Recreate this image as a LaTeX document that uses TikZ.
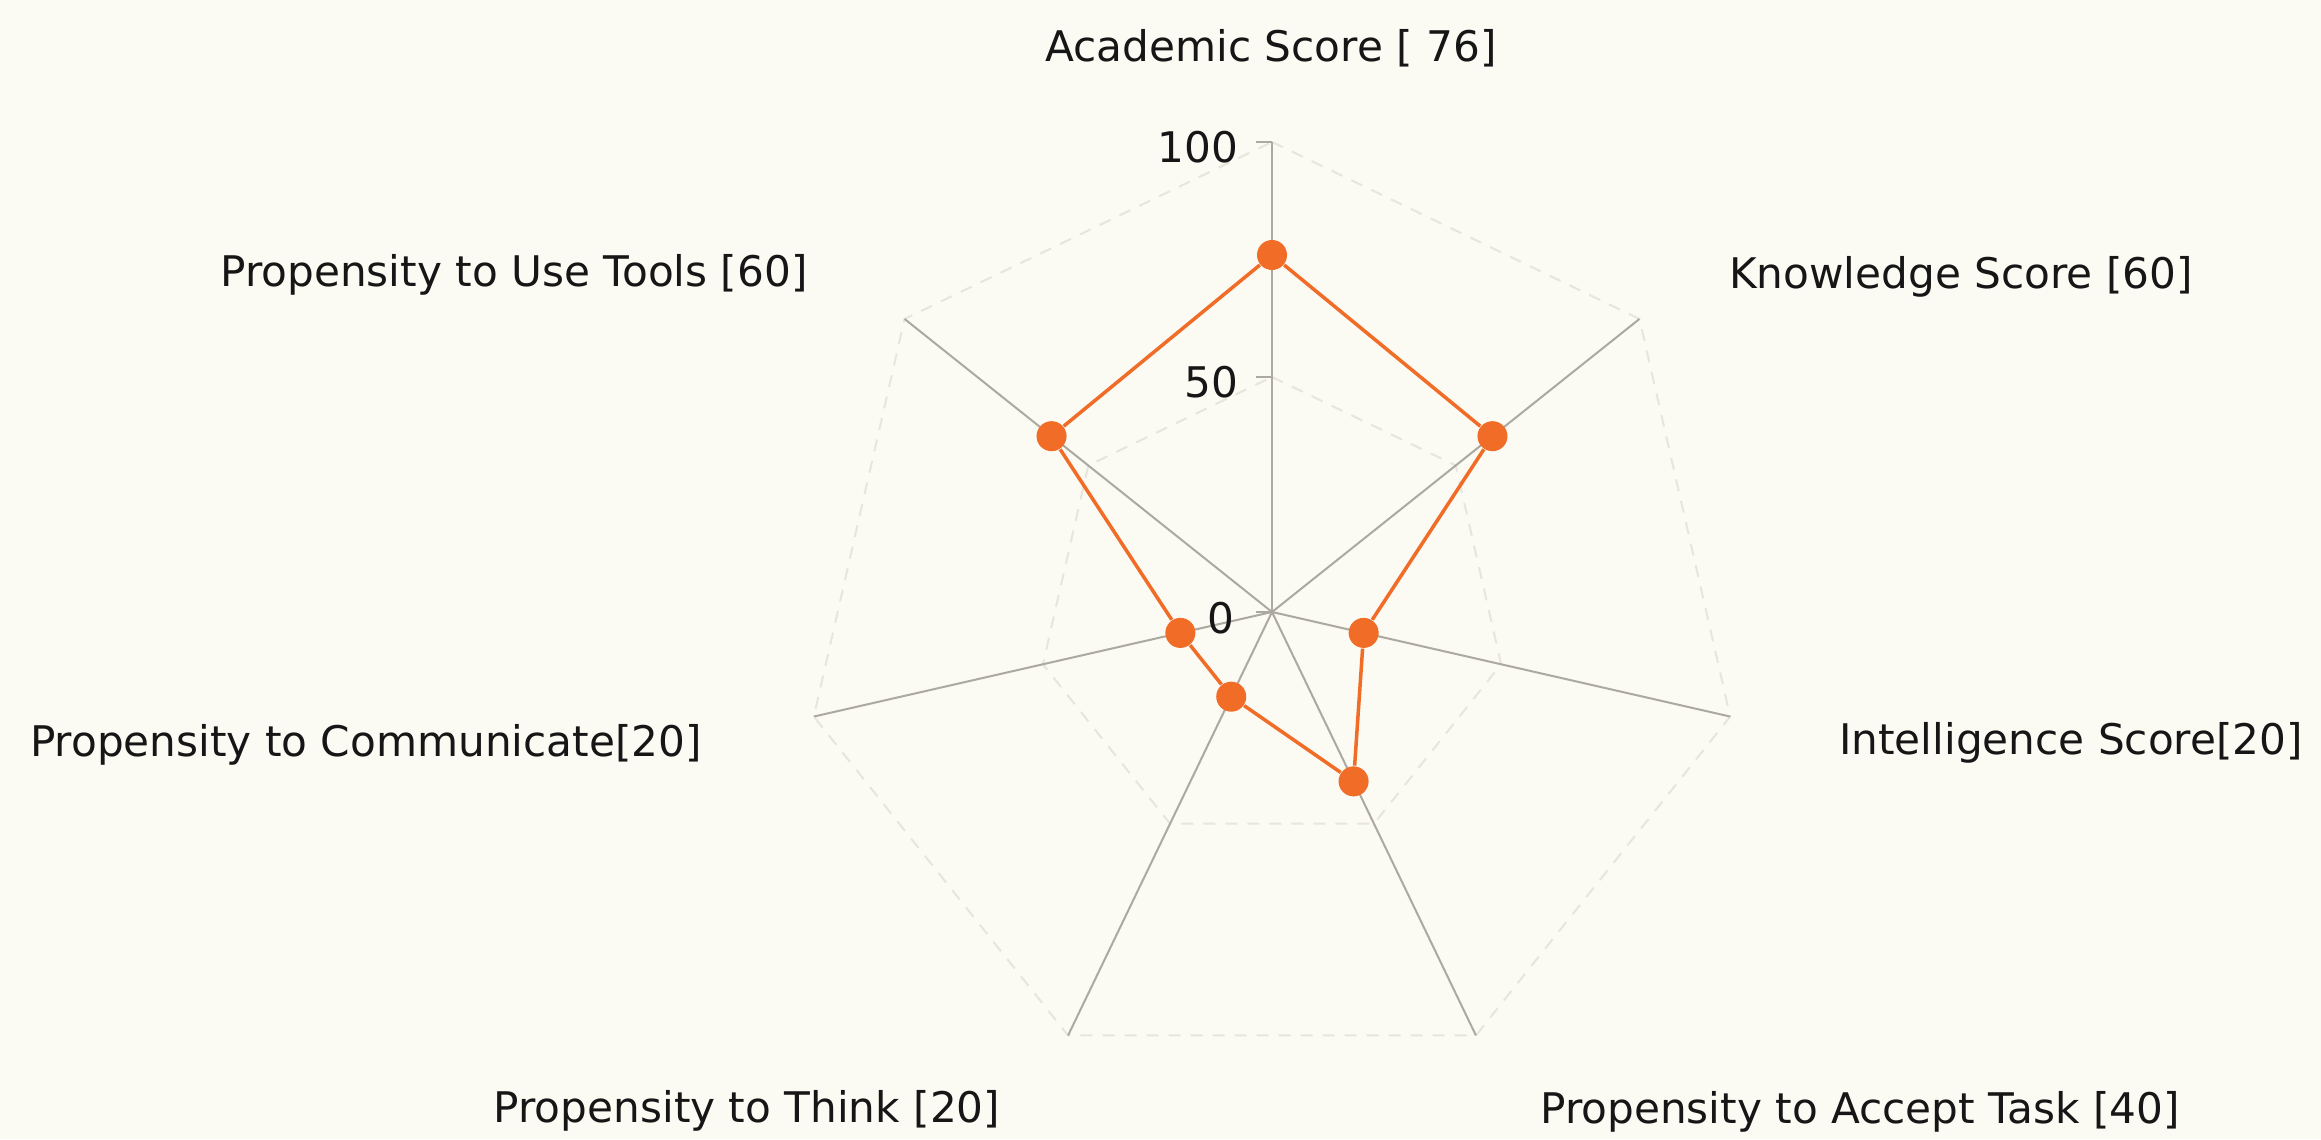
\documentclass[tikz,border=0pt]{standalone}
\usepackage{fontspec}
\setmainfont{DejaVu Sans}
\definecolor{bgcream}{RGB}{251,250,243}
\definecolor{axisgrey}{RGB}{172,170,160}
\definecolor{ringgrey}{RGB}{232,230,219}
\definecolor{scoreorange}{RGB}{241,108,38}
\definecolor{labelblack}{RGB}{22,22,22}
\begin{document}
\begin{tikzpicture}[x=0.01cm, y=0.01cm,
  radarline/.style={draw=axisgrey, line width=0.02cm},
  gridring/.style={draw=ringgrey, line width=0.02cm, dash pattern=on 0.12cm off 0.1cm},
  scoreline/.style={draw=scoreorange, line width=0.035cm},
  scoredot/.style={circle, fill=scoreorange, inner sep=0pt, minimum size=0.3cm},
  axislabel/.style={anchor=base, inner sep=0pt, text=labelblack, font=\fontsize{12}{14}\selectfont},
  ticklabel/.style={anchor=east, inner sep=0pt, text=labelblack, font=\fontsize{12}{14}\selectfont}]
\fill[bgcream] (0,0) rectangle (2321,1139);
\useasboundingbox (0,0) rectangle (2321,1139);
\begin{scope}[shift={(1272,527)}]
\coordinate (o) at (0,0);
\coordinate (ax0) at (90:470);
\coordinate (ax1) at (38.571:470);
\coordinate (ax2) at (-12.857:470);
\coordinate (ax3) at (-64.286:470);
\coordinate (ax4) at (-115.714:470);
\coordinate (ax5) at (-167.143:470);
\coordinate (ax6) at (141.429:470);
\coordinate (hf0) at (90:235);
\coordinate (hf1) at (38.571:235);
\coordinate (hf2) at (-12.857:235);
\coordinate (hf3) at (-64.286:235);
\coordinate (hf4) at (-115.714:235);
\coordinate (hf5) at (-167.143:235);
\coordinate (hf6) at (141.429:235);
\draw[gridring] (hf0) -- (hf1) -- (hf2) -- (hf3) -- (hf4) -- (hf5) -- (hf6) -- cycle;
\draw[gridring] (ax0) -- (ax1) -- (ax2) -- (ax3) -- (ax4) -- (ax5) -- (ax6) -- cycle;
\draw[radarline] (o) -- (ax0);
\draw[radarline] (o) -- (ax1);
\draw[radarline] (o) -- (ax2);
\draw[radarline] (o) -- (ax3);
\draw[radarline] (o) -- (ax4);
\draw[radarline] (o) -- (ax5);
\draw[radarline] (o) -- (ax6);
\coordinate (tk100) at (-16,470);
\coordinate (tk50) at (-16,235);
\coordinate (tk0) at (-16,0);
\draw[radarline] (tk100) -- (ax0);
\draw[radarline] (tk50) -- (hf0);
\draw[radarline] (tk0) -- (o);
\node[ticklabel] (v100) at (-33,465) {100};
\node[ticklabel] (v50) at (-33,230) {50};
\node[ticklabel] (v0) at (-37,-6) {0};
\node[scoredot] (acad) at (90:357) {};
\node[scoredot] (know) at (38.571:282) {};
\node[scoredot] (intel) at (-12.857:94) {};
\node[scoredot] (task) at (-64.286:188) {};
\node[scoredot] (think) at (-115.714:94) {};
\node[scoredot] (comm) at (-167.143:94) {};
\node[scoredot] (tools) at (141.429:282) {};
\draw[scoreline] (acad) -- (know);
\draw[scoreline] (know) -- (intel);
\draw[scoreline] (intel) -- (task);
\draw[scoreline] (task) -- (think);
\draw[scoreline] (think) -- (comm);
\draw[scoreline] (comm) -- (tools);
\draw[scoreline] (tools) -- (acad);
\node[axislabel] (acadlbl) at (-1,550) {Academic Score [ 76]};
\node[axislabel] (knowlbl) at (689,323) {Knowledge Score [60]};
\node[axislabel] (intellbl) at (799,-143) {Intelligence Score[20]};
\node[axislabel] (tasklbl) at (588,-511) {Propensity to Accept Task [40]};
\node[axislabel] (thinklbl) at (-525,-510) {Propensity to Think [20]};
\node[axislabel] (commlbl) at (-906,-145) {Propensity to Communicate[20]};
\node[axislabel] (toolslbl) at (-758,325) {Propensity to Use Tools [60]};
\end{scope}
\end{tikzpicture}
\end{document}
